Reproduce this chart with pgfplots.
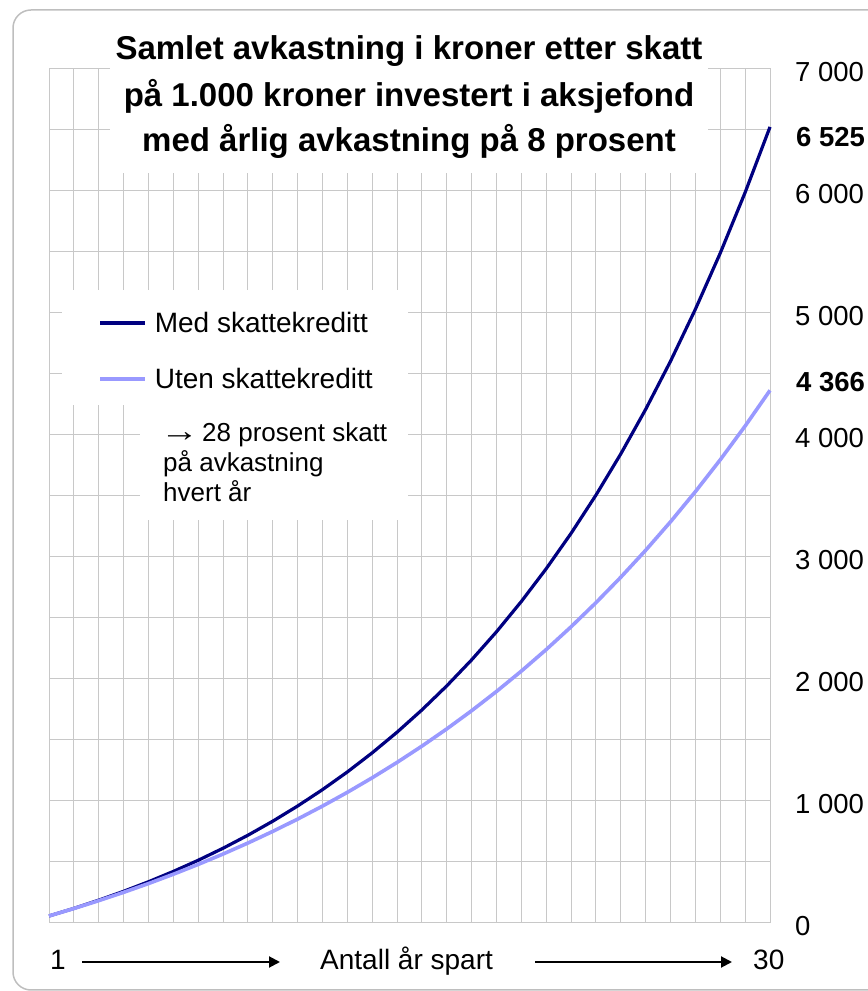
\documentclass[border=0pt]{standalone}
\usepackage{graphicx}
\usepackage{pgfplots}
\pgfplotsset{compat=1.18}
\usepackage{pgfplotstable}
\usepackage{fontspec}
\setmainfont{Liberation Sans}
\usetikzlibrary{arrows.meta}
\definecolor{navyline}{RGB}{0,0,128}
\definecolor{lightline}{RGB}{153,153,255}
\definecolor{gridgray}{RGB}{200,200,200}
\definecolor{framegray}{RGB}{190,190,190}

\pgfplotstableread{
x med uten
1 57.6 57.6
2 119.6 118.5
3 187.0 182.9
4 259.6 251.1
5 337.9 323.1
6 422.6 399.4
7 514.0 480.0
8 612.7 565.2
9 719.3 655.4
10 834.4 750.7
11 958.8 851.6
12 1093.1 958.2
13 1238.1 1071.0
14 1394.8 1190.3
15 1564.0 1316.4
16 1746.7 1449.9
17 1944.0 1591.0
18 2157.1 1740.2
19 2387.3 1898.1
20 2635.9 2065.0
21 2904.4 2241.5
22 3194.3 2428.2
23 3507.5 2625.7
24 3845.7 2834.6
25 4210.9 3055.4
26 4605.4 3289.0
27 5031.4 3536.1
28 5491.5 3797.3
29 5988.4 4073.7
30 6525.1 4365.9
}\datatable

\newcommand{\fs}[1]{\fontsize{#1bp}{#1bp}\selectfont}

\begin{document}
\begin{tikzpicture}[x=1bp,y=1bp]
\useasboundingbox (0,0) rectangle (868,991);
\begin{axis}[
  at={(49bp,68bp)}, anchor=south west,
  scale only axis, width=721bp, height=854bp,
  xmin=1, xmax=30, ymin=0, ymax=7000,
  xtick={1,...,30}, xticklabels={},
  ytick={0,1000,...,7000},
  yticklabels={0,1 000,2 000,3 000,4 000,5 000,6 000,7 000},
  minor y tick num=1,
  grid=both,
  major grid style={gridgray, line width=1bp},
  minor grid style={gridgray, line width=1bp},
  axis line style={gridgray, line width=1bp},
  major tick length=0pt, minor tick length=0pt,
  yticklabel pos=right,
  yticklabel style={anchor=west, inner sep=0pt, xshift=25bp, yshift=-3bp, font=\fs{27.5}},
  clip=false,
  legend cell align=left,
  legend image code/.code={\draw[#1] (0bp,0bp) -- (45bp,0bp);},
  legend style={at={(0.068,0.7155)}, anchor=north west, draw=none, fill=none,
    inner sep=0pt, font=\fs{28}, row sep=34bp, column sep=8bp,
    nodes={inner sep=0pt}},
]
% white boxes over the grid (title, legend, note)
\fill[white] (axis cs:3.454,6147.5) rectangle (axis cs:27.506,7434);
\fill[white] (axis cs:1.523,4245.9) rectangle (axis cs:15.44,5188.5);
\fill[white] (axis cs:4.66,3303.3) rectangle (axis cs:15.44,4245.9);
\addplot[navyline, line width=3.2bp] table[x=x, y=med] {\datatable};
\addlegendentry{Med skattekreditt}
\addplot[lightline, line width=3.6bp] table[x=x, y=uten] {\datatable};
\addlegendentry{Uten skattekreditt}
\end{axis}
% title
\node[anchor=base, font=\fs{33}\bfseries, inner sep=0pt] at (409,931) {Samlet avkastning i kroner etter skatt};
\node[anchor=base, font=\fs{33}\bfseries, inner sep=0pt] at (409,884) {på 1.000 kroner investert i aksjefond};
\node[anchor=base, font=\fs{33}\bfseries, inner sep=0pt] at (409,839) {med årlig avkastning på 8 prosent};
% annotation
\node[anchor=base west, font=\fs{26}, inner sep=0pt] at (160,549) {\scalebox{1.5}[1.2]{→}\hspace{3bp}28 prosent skatt};
\node[anchor=base west, font=\fs{26}, inner sep=0pt] at (163,519) {på avkastning};
\node[anchor=base west, font=\fs{26}, inner sep=0pt] at (163,489) {hvert år};
% end value labels
\node[anchor=west, font=\fs{27.5}\bfseries, inner sep=0pt] at (796,854) {6 525};
\node[anchor=west, font=\fs{27.5}\bfseries, inner sep=0pt] at (796,609) {4 366};
% x axis row
\node[anchor=base west, font=\fs{28}, inner sep=0pt] at (50,21) {1};
\draw[line width=2bp, -{Triangle[length=11bp, width=11bp]}] (82,29) -- (280,29);
\node[anchor=base west, font=\fs{28}, inner sep=0pt] at (320,21) {Antall år spart};
\draw[line width=2bp, -{Triangle[length=11bp, width=11bp]}] (535,29) -- (732,29);
\node[anchor=base west, font=\fs{28}, inner sep=0pt] at (753,21) {30};
% frame
\draw[framegray, line width=1.5bp, rounded corners=18bp] (13,1) rectangle (900,981);
\end{tikzpicture}
\end{document}
